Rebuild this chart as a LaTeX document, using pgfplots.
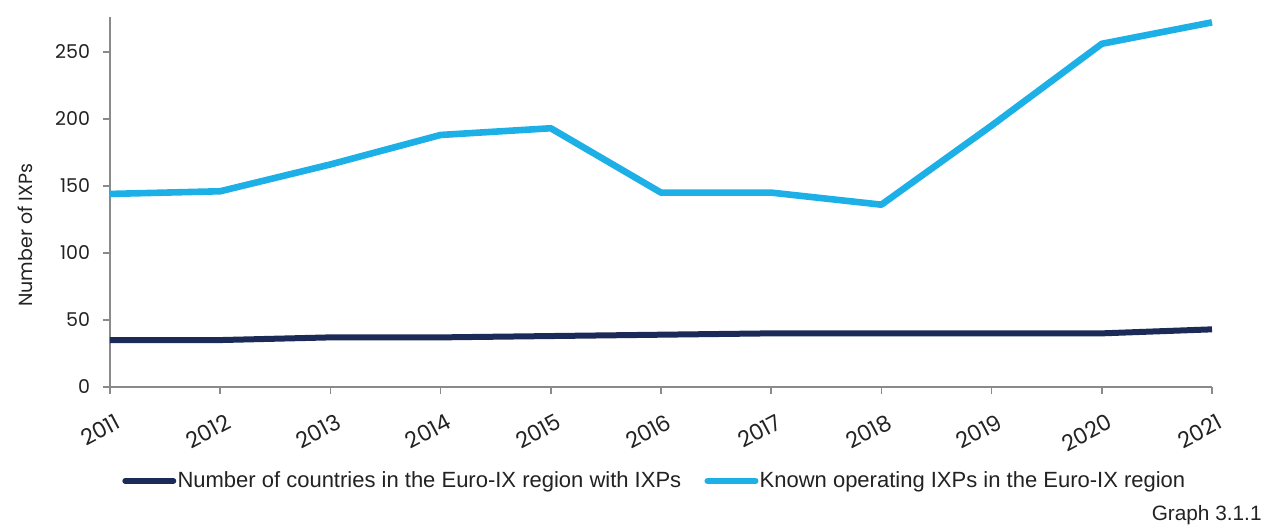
\documentclass[border=0pt]{standalone}
\usepackage{pgfplots}
\pgfplotsset{compat=1.18}
\usepackage{fontspec}
\setmainfont{Poppins}
\newfontfamily\legfont{Liberation Sans}
\definecolor{navy}{HTML}{1C2A58}
\definecolor{sky}{HTML}{1DB0E6}
\definecolor{axgray}{HTML}{8A8A8A}
\definecolor{txt}{HTML}{222222}
\begin{document}
\begin{tikzpicture}
\begin{axis}[
  scale only axis,
  width=551pt, height=185pt,
  xmin=2011, xmax=2021,
  ymin=0, ymax=276,
  axis lines*=left,
  axis line style={axgray, line width=0.8pt, -},
  xtick={2011,...,2021},
  ytick={0,50,100,150,200,250},
  tick style={axgray, line width=0.8pt},
  tick align=outside,
  major tick length=3.5pt,
  /pgf/number format/assume math mode=true,
  xticklabel={\pgfmathprintnumber[1000 sep=]{\tick}},
  yticklabel style={font=\fontsize{9.5}{11}\selectfont, text=txt, xshift=-3pt},
  xticklabel style={font=\fontsize{11}{13}\selectfont, text=txt, rotate=28, anchor=north east, yshift=-6pt, xshift=1pt},
  every axis y label/.style={at={(axis description cs:-0.077,0.41)}, rotate=90, anchor=center, font=\fontsize{9.5}{11}\selectfont, text=txt},
  ylabel={Number of IXPs},
  legend columns=2,
  legend style={at={(axis description cs:0.494,-0.254)}, anchor=center, draw=none, font=\legfont\fontsize{11}{13}\selectfont, text=txt, nodes={inner xsep=0.6pt}, /tikz/every even column/.append style={column sep=11pt}},
  legend image code/.code={\draw[#1, line width=3pt, line cap=round] (1.5pt,0pt) -- (25.5pt,0pt);},
  legend cell align=left,
  clip=false,
]
\addplot[navy, line width=3pt, line join=round] coordinates {
(2011,35) (2012,35) (2013,37) (2014,37) (2015,38) (2016,39) (2017,40) (2018,40) (2019,40) (2020,40) (2021,43)};
\addlegendentry{Number of countries in the Euro-IX region with IXPs}
\addplot[sky, line width=3.3pt, line join=round] coordinates {
(2011,144) (2012,146) (2013,166) (2014,188) (2015,193) (2016,145) (2017,145) (2018,136) (2019,195) (2020,256) (2021,272)};
\addlegendentry{Known operating IXPs in the Euro-IX region}
\end{axis}
\node[anchor=base east, inner sep=0pt, font=\legfont\fontsize{10.4}{12}\selectfont, text=txt] at (576pt,-67pt) {Graph 3.1.1};
\path (-55pt,-70.5pt) rectangle (578pt,193.5pt);
\end{tikzpicture}
\end{document}
